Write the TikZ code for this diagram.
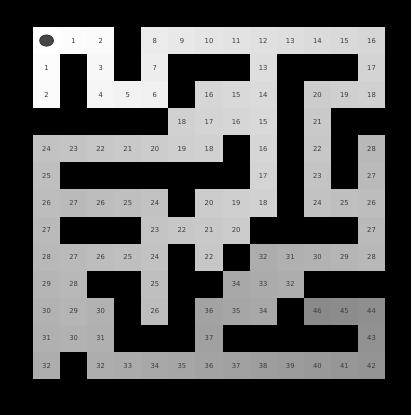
\documentclass[tikz,border=0pt]{standalone}
\usepackage{fontspec}
\setsansfont{DejaVu Sans}
\usetikzlibrary{shapes.geometric}
\colorlet{wallcol}{black}
\colorlet{labelcol}{black!76}
\colorlet{startcol}{black!72}
\newcommand{\mazecell}[3]{%
  \pgfmathsetmacro{\cellshade}{1.0*#3}%
  \fill[black!\cellshade!white] (#1,#2) rectangle ++(1,1);
  \node[font=\sffamily\fontsize{6.8}{7}\selectfont,text=labelcol,text height=5pt,text depth=0pt,inner sep=0pt] (c#1-#2) at ({#1+0.5},{#2+0.5}) {#3};}

\begin{document}
\begin{tikzpicture}[x=27.08pt,y=-27.08pt]
\fill[wallcol] (-1.219,-0.997) rectangle (13.959,14.328);
\useasboundingbox (-1.219,-0.997) rectangle (13.959,14.328);
% start cell
\fill[white] (0,0) rectangle (1,1);
\node[ellipse,minimum width=14pt,minimum height=11.5pt,inner sep=0pt,fill=startcol,draw=black!85,line width=0.5pt] (start) at (0.5,0.5) {};
% distances, row by row
\foreach \c/\r/\d in {1/0/1,2/0/2,4/0/8,5/0/9,6/0/10,7/0/11,8/0/12,9/0/13,10/0/14,11/0/15,12/0/16,
  0/1/1,2/1/3,4/1/7,8/1/13,12/1/17,
  0/2/2,2/2/4,3/2/5,4/2/6,6/2/16,7/2/15,8/2/14,10/2/20,11/2/19,12/2/18,
  5/3/18,6/3/17,7/3/16,8/3/15,10/3/21,
  0/4/24,1/4/23,2/4/22,3/4/21,4/4/20,5/4/19,6/4/18,8/4/16,10/4/22,12/4/28,
  0/5/25,8/5/17,10/5/23,12/5/27,
  0/6/26,1/6/27,2/6/26,3/6/25,4/6/24,6/6/20,7/6/19,8/6/18,10/6/24,11/6/25,12/6/26,
  0/7/27,4/7/23,5/7/22,6/7/21,7/7/20,12/7/27,
  0/8/28,1/8/27,2/8/26,3/8/25,4/8/24,6/8/22,8/8/32,9/8/31,10/8/30,11/8/29,12/8/28,
  0/9/29,1/9/28,4/9/25,7/9/34,8/9/33,9/9/32,
  0/10/30,1/10/29,2/10/30,4/10/26,6/10/36,7/10/35,8/10/34,10/10/46,11/10/45,12/10/44,
  0/11/31,1/11/30,2/11/31,6/11/37,12/11/43,
  0/12/32,2/12/32,3/12/33,4/12/34,5/12/35,6/12/36,7/12/37,8/12/38,9/12/39,10/12/40,11/12/41,12/12/42}
  {\mazecell{\c}{\r}{\d}}
\end{tikzpicture}
\end{document}
